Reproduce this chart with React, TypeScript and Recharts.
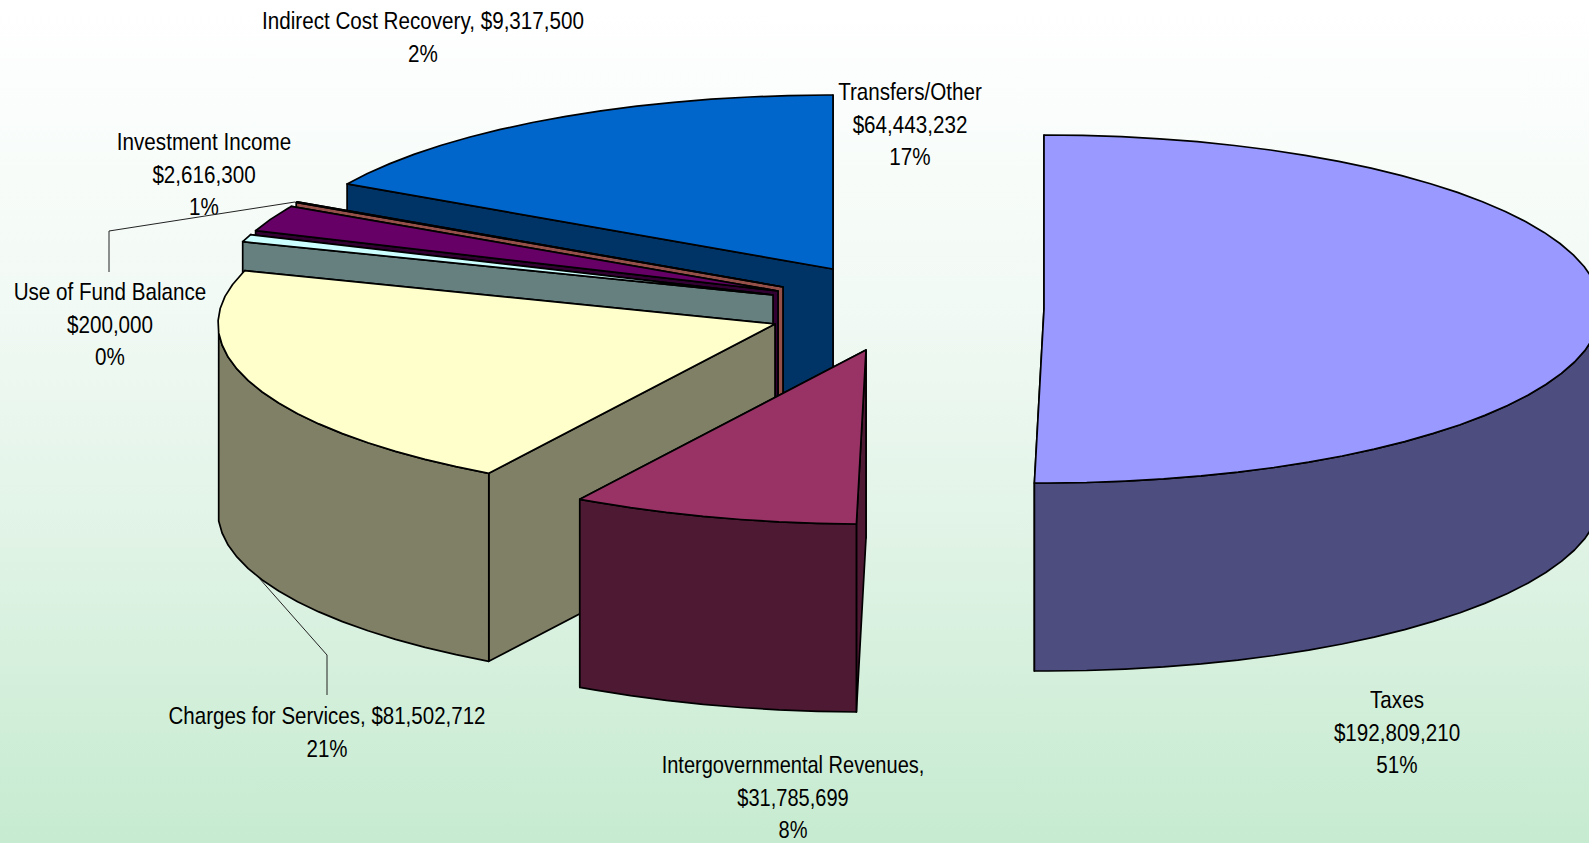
import { PieChart, Pie } from "recharts";

const categories = [
  "Taxes",
  "Intergovernmental Revenues",
  "Charges for Services",
  "Investment Income",
  "Indirect Cost Recovery",
  "Use of Fund Balance",
  "Transfers/Other",
];
const amounts = [192809210, 31785699, 81502712, 2616300, 9317500, 200000, 64443232];
const labelTexts = [
  ["Taxes", "$192,809,210", "51%"],
  ["Intergovernmental Revenues,", "$31,785,699", "8%"],
  ["Charges for Services, $81,502,712", "21%"],
  ["Investment Income", "$2,616,300", "1%"],
  ["Indirect Cost Recovery, $9,317,500", "2%"],
  ["Use of Fund Balance", "$200,000", "0%"],
  ["Transfers/Other", "$64,443,232", "17%"],
];

const data = categories.map((name, i) => ({ name, value: amounts[i] }));

// styling and layout, same order as categories
const topColors = ["#9999FF", "#993366", "#FFFFCC", "#CCFFFF", "#660066", "#FF8080", "#0066CC"];
const sideColors = ["#4D4D80", "#4D1933", "#808066", "#668080", "#330033", "#96504A", "#003366"];
// exploded slice apex, in px
const apex = [
  [1044, 309],
  [866, 350],
  [775, 324],
  [773, 295],
  [778, 291],
  [783, 287],
  [833, 269],
];
const labelPos = [
  [1397, 708],
  [793, 773],
  [327, 724],
  [204, 150],
  [423, 29],
  [110, 300],
  [910, 100],
];
// no narrow font installed, so the labels are squeezed
const labelSqueeze = [0.86, 0.835, 0.855, 0.86, 0.86, 0.86, 0.86];
// back to front
const paintOrder = [6, 5, 4, 3, 2, 1, 0];

const W = 1589;
const H = 843;
const RX = 557;
const RY = 174;
const DEPTH = 188;

const rad = (d: number) => (d * Math.PI) / 180;
// the original's projection is a bit off a true ellipse, strongest at the bottom
const warp = (d: number) => d + 0.4 * (1 - Math.cos(rad(d - 90))) / 2;

const Slice = (props: any) => {
  const i = props.index;
  const [ax, ay] = apex[i];
  const start = props.startAngle;
  const end = props.endAngle;
  const pt = (deg: number, z = 0) => [
    ax + RX * Math.cos(rad(warp(deg))),
    ay - RY * Math.sin(rad(warp(deg))) + z,
  ];
  const angles = [start];
  for (let d = start - 4; d > end; d -= 4) angles.push(d);
  angles.push(end);

  const toPath = (pts: number[][]) =>
    "M" + pts.map((p) => p[0].toFixed(1) + "," + p[1].toFixed(1)).join("L") + "Z";

  const top = toPath([[ax, ay], ...angles.map((d) => pt(d))]);
  const cutFace = (deg: number) =>
    toPath([[ax, ay], pt(deg), pt(deg, DEPTH), [ax, ay + DEPTH]]);
  const front = angles.filter((d) => Math.sin(rad(d)) <= 0.001);
  const wall =
    front.length > 1
      ? toPath([...front.map((d) => pt(d)), ...front.slice().reverse().map((d) => pt(d, DEPTH))])
      : null;
  const edge = { stroke: "#000", strokeWidth: 1.7, strokeLinejoin: "round" as const };

  return (
    <g>
      <path d={cutFace(end)} fill={sideColors[i]} {...edge} />
      <path d={cutFace(start)} fill={sideColors[i]} {...edge} />
      {wall && <path d={wall} fill={sideColors[i]} {...edge} />}
      <path d={top} fill={topColors[i]} {...edge} />
    </g>
  );
};

const SliceLabel = (props: any) => {
  const [x, y] = labelPos[props.index];
  return (
    <text
      transform={`translate(${x} 0) scale(${labelSqueeze[props.index]} 1)`}
      textAnchor="middle"
      fill="#000"
      fontSize={24}
      fontFamily="'Liberation Sans', Arial, sans-serif"
    >
      {labelTexts[props.index].map((t, n) => (
        <tspan key={n} x={0} y={y + n * 32.7}>
          {t}
        </tspan>
      ))}
    </text>
  );
};

const App = () => {
  return (
    <div
      style={{
        position: "absolute",
        left: 0,
        top: 0,
        width: W,
        height: H,
        overflow: "hidden",
        background: "linear-gradient(#ffffff 0%, #f2faf5 35%, #e3f4e8 60%, #c6ebd0 100%)",
      }}
    >
      <PieChart width={W} height={H} margin={{ top: 0, right: 0, bottom: 0, left: 0 }}>
        {paintOrder.map((idx) => (
          <Pie
            key={idx}
            data={data}
            dataKey="value"
            nameKey="name"
            cx={800}
            cy={300}
            outerRadius={RX}
            startAngle={90}
            endAngle={-270}
            stroke="none"
            isAnimationActive={false}
            labelLine={false}
            label={idx === 0 ? SliceLabel : false}
            shape={(p: any) => (p.index === idx ? <Slice {...p} /> : <g />)}
          />
        ))}
      </PieChart>
      <svg width={W} height={H} style={{ position: "absolute", left: 0, top: 0 }}>
        <polyline points="109,272 109,231 295,202" fill="none" stroke="#222" strokeWidth={1} />
        <polyline points="327,695 327,655 259,578" fill="none" stroke="#222" strokeWidth={1} />
      </svg>
    </div>
  );
};

export default App;
